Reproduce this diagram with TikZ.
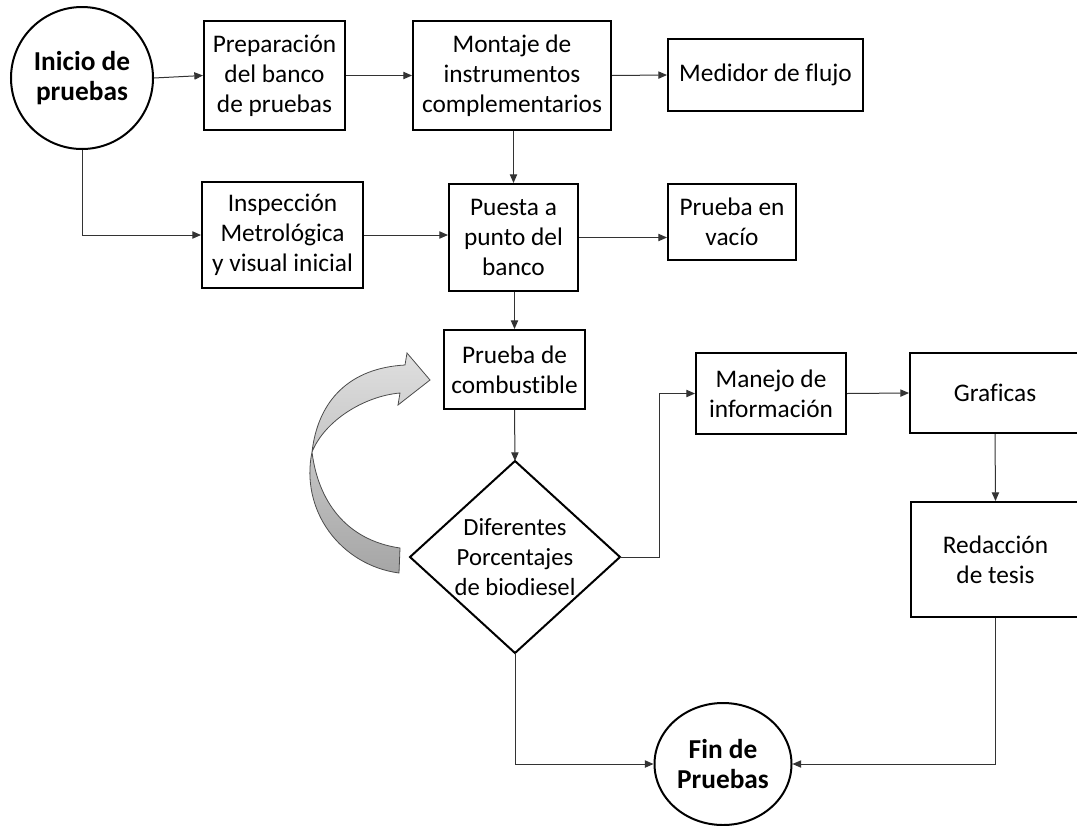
\documentclass[tikz,border=0pt]{standalone}
\usepackage{fontspec}
\setmainfont{Carlito}[Ligatures=NoCommon]
\usetikzlibrary{arrows.meta,shapes.geometric,calc}
\begin{document}
\begin{tikzpicture}[x=0.75pt,y=-0.75pt,
  box/.style={draw=black, line width=1.5pt, rectangle, inner sep=0pt, align=center,
    font=\fontsize{19}{22.5}\selectfont},
  txt/.style={inner sep=0pt, align=center, font=\fontsize{18.5}{22.5}\selectfont},
  term/.style={draw=black, line width=1.5pt, ellipse, inner sep=0pt, align=center,
    font=\fontsize{20.5}{23}\selectfont\bfseries},
  conn/.style={draw=black!80, line width=0.75pt, -{Triangle[length=6.5pt,width=5.5pt]}},
  shape outline/.style={draw=black, line width=1.5pt}
]
\useasboundingbox (0,0) rectangle (1077,825);

% terminals
\node[term, minimum width=142*0.75pt, minimum height=142*0.75pt] (start) at (82,78) {Inicio de\\pruebas};
\node[term, minimum width=137*0.75pt, minimum height=122*0.75pt] (fin) at (723,764) {Fin de\\Pruebas};

% boxes
\node[box, minimum width=141*0.75pt, minimum height=109*0.75pt] (prep) at (274.5,75.5) {Preparación\\del banco\\de pruebas};
\node[box, minimum width=198*0.75pt, minimum height=109*0.75pt] (mont) at (512,75.5) {Montaje de\\instrumentos\\complementarios};
\node[box, minimum width=195*0.75pt, minimum height=72*0.75pt] (med) at (765.5,75) {Medidor de flujo};
\node[box, minimum width=161*0.75pt, minimum height=106*0.75pt] (insp) at (282.5,235) {Inspección\\Metrológica\\y visual inicial};
\node[box, minimum width=129*0.75pt, minimum height=107*0.75pt] (pue) at (513.5,237.5) {Puesta a\\punto del\\banco};
\node[box, minimum width=128*0.75pt, minimum height=76*0.75pt] (vac) at (732,222) {Prueba en\\vacío};
\node[box, minimum width=141*0.75pt, minimum height=79*0.75pt] (comb) at (514.5,369.5) {Prueba de\\combustible};
\node[box, minimum width=150*0.75pt, minimum height=81*0.75pt] (man) at (771,393.5) {Manejo de\\información};
\node[box, minimum width=170*0.75pt, minimum height=80*0.75pt] (graf) at (995,393) {Graficas};
\node[box, minimum width=169*0.75pt, minimum height=115*0.75pt] (red) at (995.5,559.5) {Redacción\\de tesis};

% decision diamond
\node[txt] (dia) at (515,557) {Diferentes\\Porcentajes\\de biodiesel};
\coordinate (diaN) at (515,461);
\coordinate (diaE) at (620,557);
\coordinate (diaS) at (515,653);
\coordinate (diaW) at (410,557);
\draw[shape outline, line join=miter] (diaN) -- (diaE) -- (diaS) -- (diaW) -- cycle;

% curved block arrow
\shade[top color=gray!25, bottom color=gray!70, draw=black!70, line width=0.6pt]
  (430,380) -- (398,405) -- (400,393)
  .. controls (365,396) and (325,420) .. (312,452)
  .. controls (318,500) and (345,540) .. (400,548)
  -- (399,573)
  .. controls (340,565) and (300,510) .. (312,452)
  .. controls (318,400) and (350,368) .. (405,365)
  -- (407,353) -- cycle;

% connectors
\draw[conn] (start.east) -- (prep.west);
\draw[conn] (prep.east) -- (mont.west);
\draw[conn] (mont.east) -- (med.west);
\draw[conn] (pue.north |- mont.south) -- (pue.north);
\draw[conn] (start.south) |- (insp.west);
\draw[conn] (insp.east) -- (insp.east -| pue.west);
\draw[conn] (pue.east) -- (pue.east -| vac.west);
\draw[conn] (comb.north |- pue.south) -- (comb.north);
\draw[conn] (comb.south) -- (diaN);
\draw[conn] (diaE) -- ++(39,0) |- (man.west);
\draw[conn] (man.east) -- (graf.west);
\draw[conn] (graf.south) -- (red.north);
\draw[conn] (red.south) |- (fin.east);
\draw[conn] (diaS) |- (fin.west);
\end{tikzpicture}
\end{document}
